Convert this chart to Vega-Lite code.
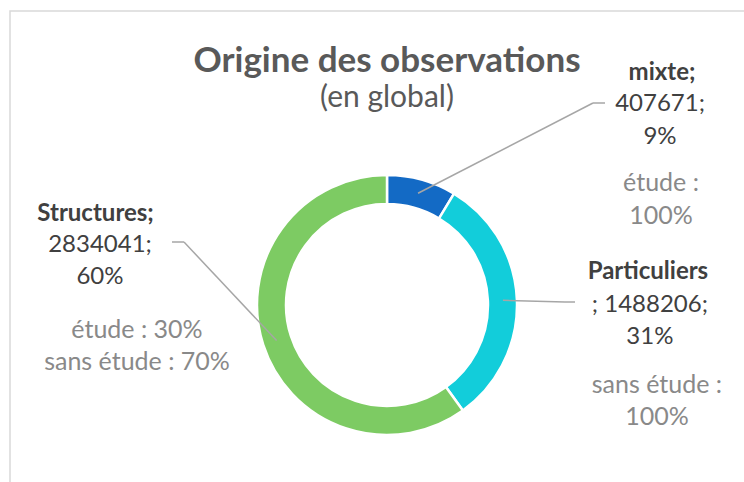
{
  "$schema": "https://vega.github.io/schema/vega-lite/v6.json",
  "width": 736,
  "height": 473,
  "autosize": {"type": "none"},
  "padding": {"left": 10, "top": 11, "right": -2, "bottom": -2},
  "background": "white",
  "config": {"view": {"stroke": "#d9d9d9", "strokeWidth": 1.5}, "font": "Lato"},
  "params": [
    {"name": "cx", "expr": "width/2 + 9"},
    {"name": "cy", "expr": "height/2 + 57.5"}
  ],
  "title": {
    "text": "Origine des observations",
    "subtitle": "(en global)",
    "anchor": "middle",
    "orient": "top",
    "dx": 9,
    "offset": -101.5,
    "font": "Lato",
    "fontSize": 35,
    "fontWeight": "bold",
    "color": "#595959",
    "subtitleFont": "Lato",
    "subtitleFontSize": 30,
    "subtitleColor": "#595959",
    "subtitlePadding": 4
  },
  "data": {
    "values": [
      {"categorie": "mixte", "ordre": 1, "observations": 407671, "nom": "mixte;", "valeurs": "407671;\n9%", "etude": "étude :\n100%"},
      {"categorie": "Particuliers", "ordre": 2, "observations": 1488206, "nom": "Particuliers", "valeurs": "; 1488206;\n31%", "etude": "sans étude :\n100%"},
      {"categorie": "Structures", "ordre": 3, "observations": 2834041, "nom": "Structures;", "valeurs": "2834041;\n60%", "etude": "étude : 30%\nsans étude : 70%"}
    ]
  },
  "transform": [
    {"joinaggregate": [{"op": "sum", "field": "observations", "as": "total"}]},
    {"window": [{"op": "sum", "field": "observations", "as": "cumul"}], "sort": [{"field": "ordre"}], "frame": [null, 0]},
    {"calculate": "2*PI*(datum.cumul - datum.observations/2)/datum.total", "as": "angle"},
    {"calculate": "cx + 116*sin(datum.angle)", "as": "x0"},
    {"calculate": "cy - 116*cos(datum.angle)", "as": "y0"},
    {"calculate": "datum.categorie === 'mixte' ? cx + 206 : datum.categorie === 'Particuliers' ? cx + 178 : cx - 203", "as": "x1"},
    {"calculate": "datum.categorie === 'mixte' ? cy - 202 : datum.categorie === 'Particuliers' ? cy - 3 : cy - 63", "as": "y1"},
    {"calculate": "datum.categorie === 'mixte' ? cx + 218 : datum.categorie === 'Particuliers' ? cx + 188 : cx - 215", "as": "x2"}
  ],
  "layer": [
    {
      "mark": {"type": "arc", "innerRadius": 101, "outerRadius": 130, "stroke": "white", "strokeWidth": 2.5, "x": {"expr": "cx"}, "y": {"expr": "cy"}},
      "encoding": {
        "theta": {"field": "observations", "type": "quantitative", "stack": true},
        "order": {"field": "ordre", "type": "quantitative"},
        "color": {
          "field": "categorie",
          "type": "nominal",
          "scale": {"domain": ["mixte", "Particuliers", "Structures"], "range": ["#136AC5", "#12CDDA", "#7DCB63"]},
          "legend": null
        }
      }
    },
    {
      "mark": {"type": "rule", "color": "#a6a6a6", "strokeWidth": 1.5},
      "encoding": {
        "x": {"field": "x0", "type": "quantitative", "scale": null},
        "y": {"field": "y0", "type": "quantitative", "scale": null},
        "x2": {"field": "x1"},
        "y2": {"field": "y1"}
      }
    },
    {
      "mark": {"type": "rule", "color": "#a6a6a6", "strokeWidth": 1.5},
      "encoding": {
        "x": {"field": "x1", "type": "quantitative", "scale": null},
        "y": {"field": "y1", "type": "quantitative", "scale": null},
        "x2": {"field": "x2"},
        "y2": {"field": "y1"}
      }
    },
    {
      "mark": {
        "type": "text", "radius": 116, "x": {"expr": "cx"}, "y": {"expr": "cy"},
        "align": "center", "baseline": "middle", "font": "Lato", "fontSize": 24, "fontWeight": "bold", "fill": "#404040",
        "dx": {"expr": "datum.categorie === 'mixte' ? 244 : datum.categorie === 'Particuliers' ? 145 : -181"},
        "dy": {"expr": "datum.categorie === 'mixte' ? -120 : datum.categorie === 'Particuliers' ? -28 : -127"}
      },
      "encoding": {
        "theta": {"field": "observations", "type": "quantitative", "stack": true},
        "order": {"field": "ordre", "type": "quantitative"},
        "text": {"field": "nom"}
      }
    },
    {
      "mark": {
        "type": "text", "radius": 116, "x": {"expr": "cx"}, "y": {"expr": "cy"},
        "align": "center", "baseline": "middle", "font": "Lato", "fontSize": 24, "fill": "#404040",
        "lineBreak": "\n", "lineHeight": 32.5,
        "dx": {"expr": "datum.categorie === 'mixte' ? 242 : datum.categorie === 'Particuliers' ? 147 : -176.6"},
        "dy": {"expr": "datum.categorie === 'mixte' ? -89 : datum.categorie === 'Particuliers' ? 4.7 : -95.6"}
      },
      "encoding": {
        "theta": {"field": "observations", "type": "quantitative", "stack": true},
        "order": {"field": "ordre", "type": "quantitative"},
        "text": {"field": "valeurs"}
      }
    },
    {
      "mark": {
        "type": "text", "radius": 116, "x": {"expr": "cx"}, "y": {"expr": "cy"},
        "align": "center", "baseline": "middle", "font": "Lato", "fontSize": 25, "fill": "#898989",
        "lineBreak": "\n", "lineHeight": 32.5,
        "dx": {"expr": "datum.categorie === 'mixte' ? 243 : datum.categorie === 'Particuliers' ? 154 : -139.6"},
        "dy": {"expr": "datum.categorie === 'mixte' ? -10.2 : datum.categorie === 'Particuliers' ? 84.7 : -10.6"}
      },
      "encoding": {
        "theta": {"field": "observations", "type": "quantitative", "stack": true},
        "order": {"field": "ordre", "type": "quantitative"},
        "text": {"field": "etude"}
      }
    }
  ]
}
